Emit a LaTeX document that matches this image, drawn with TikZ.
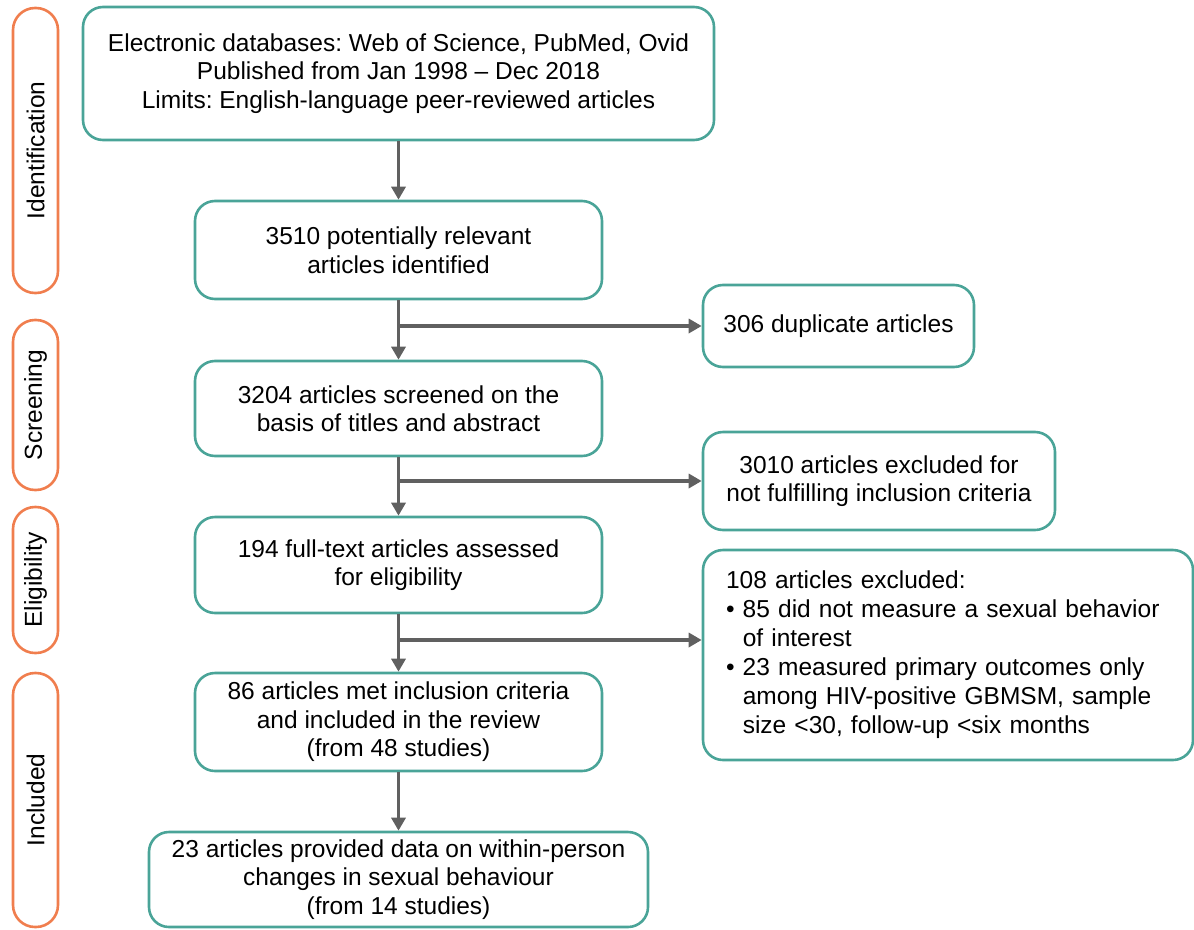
\documentclass[tikz,border=0pt]{standalone}
\usepackage{fontspec}
\setmainfont{Liberation Sans}
\frenchspacing
\usetikzlibrary{arrows.meta}
\definecolor{teal1}{RGB}{74,164,152}
\definecolor{orange1}{RGB}{240,126,78}
\definecolor{arrowgray}{RGB}{96,96,96}
\begin{document}
\begin{tikzpicture}[x=1pt,y=1pt,
        box/.style={draw=teal1,line width=2.6pt,rounded corners=20pt,align=center,inner sep=0pt,
            font=\fontsize{24.5}{28.5}\selectfont},
        stage/.style={draw=orange1,line width=2.6pt,rounded corners=22pt,minimum width=45pt,inner sep=0pt},
        flow/.style={draw=arrowgray,line width=3.6pt,-{Triangle[length=13pt,width=14pt]}}]
    \useasboundingbox (0,0) rectangle (1194,-929);
    %% stages
    \foreach \y/\h/\txt/\nm in {-150.5/285/Identification/sid,-405/170/Screening/ssc,
            -580/146/Eligibility/sel,-800/254/Included/sin}
        \node[stage,minimum height=\h pt] (\nm) at (35.5,\y)
            {\rotatebox{90}{\fontsize{24.5}{28}\selectfont\txt}};
    %% main boxes
    \node[box,minimum width=631pt,minimum height=133pt] (b1) at (398.5,-73.5)
        {Electronic databases: Web of Science, PubMed, Ovid\\Published from Jan 1998 -- Dec 2018\\
         Limits: English-language peer-reviewed articles};
    \node[box,minimum width=407pt,minimum height=98pt] (b2) at (398.5,-250)
        {3510 potentially relevant\\articles identified};
    \node[box,minimum width=407pt,minimum height=95pt] (b3) at (398.5,-408.5)
        {3204 articles screened on the\\basis of titles and abstract};
    \node[box,minimum width=407pt,minimum height=96pt] (b4) at (398.5,-565)
        {194 full-text articles assessed\\for eligibility};
    \node[box,minimum width=407pt,minimum height=98pt] (b5) at (398.5,-722)
        {86 articles met inclusion criteria\\and included in the review\\(from 48 studies)};
    \node[box,minimum width=499pt,minimum height=95pt] (b6) at (398.5,-879.5)
        {23 articles provided data on within-person\\changes in sexual behaviour\\(from 14 studies)};
    %% exclusions
    \node[box,minimum width=271pt,minimum height=82pt] (r1) at (838.5,-326) {306 duplicate articles};
    \node[box,minimum width=352pt,minimum height=98pt] (r2) at (879,-481)
        {3010 articles excluded for\\not fulfilling inclusion criteria};
    \node[box,minimum width=490pt,minimum height=210pt,align=left,text width=444pt,inner xsep=23pt,
            font=\fontsize{24.5}{29}\selectfont] (r3) at (948,-655)
        {108 articles excluded:\\
         \textbullet\ 85 did not measure a sexual behavior\\
         \phantom{\textbullet\ }of interest\\
         \textbullet\ 23 measured primary outcomes only\\
         \phantom{\textbullet\ }among HIV-positive GBMSM, sample\\
         \phantom{\textbullet\ }size <30, follow-up <six months};
    %% arrows
    \coordinate (j1) at (b2.south |- r1.west);
    \coordinate (j2) at (b3.south |- r2.west);
    \coordinate (j3) at (398.5,-640);
    \foreach \s/\t in {b1/b2,b2/b3,b3/b4,b4/b5,b5/b6}
        \draw[flow] (\s.south) -- (\t.north);
    \draw[flow] (j1) -- (r1.west);
    \draw[flow] (j2) -- (r2.west);
    \draw[flow] (j3) -- (j3 -| r3.west);
\end{tikzpicture}
\end{document}
